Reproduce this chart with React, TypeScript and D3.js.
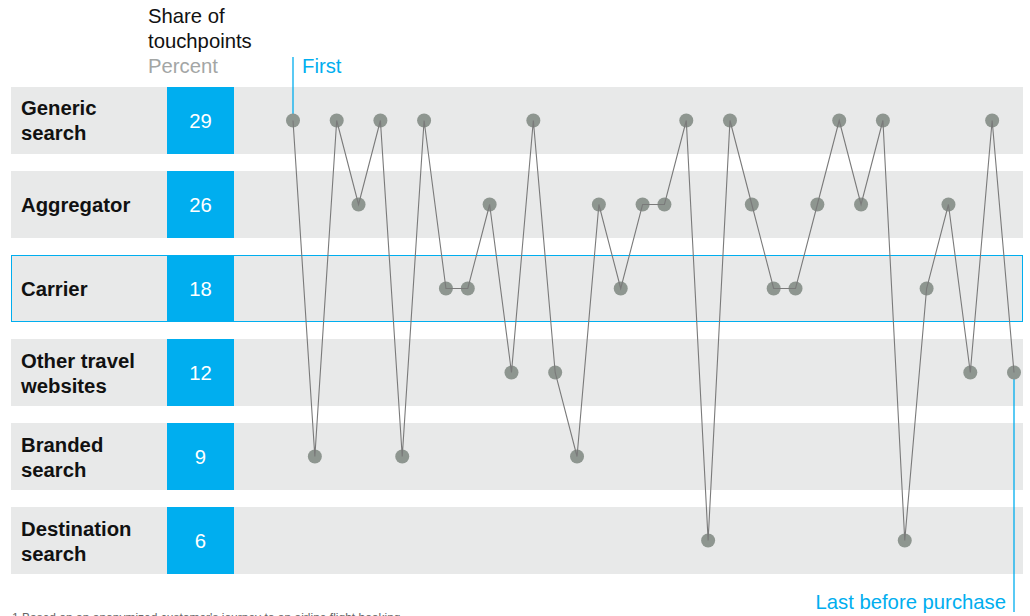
import React from "react";
import * as d3 from "d3";

// Touchpoint channels, top to bottom
const categories = [
  "Generic search",
  "Aggregator",
  "Carrier",
  "Other travel websites",
  "Branded search",
  "Destination search",
];
// Label lines per channel
const labelLines = [
  ["Generic", "search"],
  ["Aggregator"],
  ["Carrier"],
  ["Other travel", "websites"],
  ["Branded", "search"],
  ["Destination", "search"],
];
// Share of touchpoints, percent
const shares = [29, 26, 18, 12, 9, 6];
// Journey: channel visited at each step, first to last before purchase
const journey = [
  0, 4, 0, 1, 0, 4, 0, 2, 2, 1, 3, 0, 3, 4, 1, 2, 1, 1, 0, 5, 0, 1, 2, 2, 1, 0, 1,
  0, 5, 2, 1, 3, 0, 3,
];
const highlighted = "Carrier";

const W = 1030;
const H = 616;
const FONT = "'Liberation Sans', Arial, Helvetica, sans-serif";
const FS = 20.3;
const BLUE = "#00aeef";
const BAND = "#e8e9e9";
const DOT = "#8e9690";

export default function App() {
  const y = d3
    .scaleBand<string>()
    .domain(categories)
    .range([87, 574])
    .paddingInner(0.2024);
  const x = d3
    .scaleLinear()
    .domain([0, journey.length - 1])
    .range([293, 1014]);

  const pts = journey.map((c, i) => ({
    x: x(i),
    y: (y(categories[c]) as number) + y.bandwidth() / 2,
  }));
  const line = d3
    .line<{ x: number; y: number }>()
    .x((d) => d.x)
    .y((d) => d.y);

  const first = pts[0];
  const last = pts[pts.length - 1];
  const bandX0 = 11;
  const bandX1 = 1023;
  const boxX = 167;
  const boxW = 67;
  const bw = y.bandwidth();
  const hiTop = Math.round(y(highlighted) as number);
  const hiH = Math.round(bw);

  return (
    <svg
      width={W}
      height={H}
      style={{ position: "absolute", left: 0, top: 0, display: "block" }}
      fontFamily={FONT}
    >
      <rect width={W} height={H} fill="#fff" />
      {/* header */}
      <text x={148} y={23} fontSize={FS} fill="#111">Share of</text>
      <text x={148} y={48} fontSize={FS} fill="#111">touchpoints</text>
      <text x={148} y={73} fontSize={FS} fill="#a3a6a5">Percent</text>

      {/* rows */}
      {categories.map((c, i) => {
        const top = y(c) as number;
        const cy = top + bw / 2;
        const lines = labelLines[i];
        const startY = cy + 7.5 - ((lines.length - 1) * 25) / 2;
        return (
          <g key={c}>
            <rect x={bandX0} y={top} width={bandX1 - bandX0} height={bw} fill={BAND} />
            {lines.map((t, j) => (
              <text
                key={j}
                x={21}
                y={startY + j * 25}
                fontSize={FS}
                fontWeight="bold"
                fill="#111"
              >
                {t}
              </text>
            ))}
            <rect x={boxX} y={top} width={boxW} height={bw} fill={BLUE} />
            <text
              x={boxX + boxW / 2}
              y={cy + 7.5}
              fontSize={FS}
              fill="#fff"
              textAnchor="middle"
            >
              {shares[i]}
            </text>
          </g>
        );
      })}
      {/* highlighted channel */}
      <rect
        x={bandX0 + 0.5}
        y={hiTop + 0.5}
        width={bandX1 - bandX0 - 1}
        height={hiH - 1}
        fill="none"
        stroke={BLUE}
        strokeWidth={1}
      />

      {/* markers for first and last touchpoint */}
      <line x1={first.x} x2={first.x} y1={57} y2={first.y} stroke={BLUE} strokeWidth={1.3} />
      <text x={302} y={73} fontSize={FS} fill={BLUE}>First</text>
      <line x1={last.x} x2={last.x} y1={last.y} y2={612} stroke={BLUE} strokeWidth={1.3} />
      <text x={1006} y={609} fontSize={FS} fill={BLUE} textAnchor="end">
        Last before purchase
      </text>

      {/* journey */}
      {pts.map((p, i) => (
        <circle key={i} cx={p.x} cy={p.y} r={7} fill={DOT} />
      ))}
      <path d={line(pts) || ""} fill="none" stroke="#7a7a7a" strokeWidth={1.1} />

      {/* footnote */}
      <text x={12} y={622} fontSize={12} fill="#666">
        1 Based on an anonymized customer's journey to an airline flight booking
      </text>
    </svg>
  );
}
